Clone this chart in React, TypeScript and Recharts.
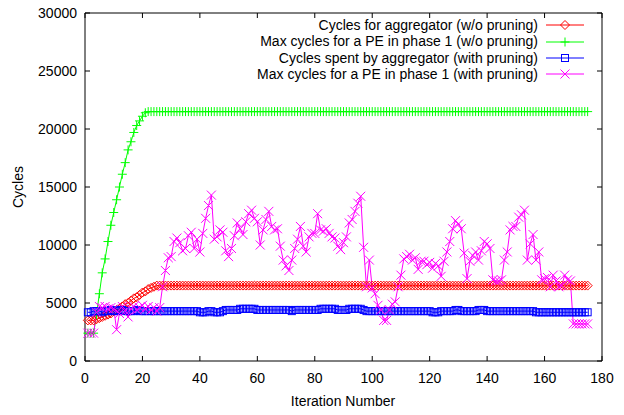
import { LineChart, Line, XAxis, YAxis, Legend, ReferenceLine } from 'recharts';

const iterations = [
  1, 2, 3, 4, 5, 6, 7, 8, 9, 10, 11, 12, 13, 14, 15, 16, 17, 18, 19, 20, 21, 22, 23, 24, 25,
  26, 27, 28, 29, 30, 31, 32, 33, 34, 35, 36, 37, 38, 39, 40, 41, 42, 43, 44, 45, 46, 47, 48, 49, 50,
  51, 52, 53, 54, 55, 56, 57, 58, 59, 60, 61, 62, 63, 64, 65, 66, 67, 68, 69, 70, 71, 72, 73, 74, 75,
  76, 77, 78, 79, 80, 81, 82, 83, 84, 85, 86, 87, 88, 89, 90, 91, 92, 93, 94, 95, 96, 97, 98, 99, 100,
  101, 102, 103, 104, 105, 106, 107, 108, 109, 110, 111, 112, 113, 114, 115, 116, 117, 118, 119, 120, 121, 122, 123, 124, 125,
  126, 127, 128, 129, 130, 131, 132, 133, 134, 135, 136, 137, 138, 139, 140, 141, 142, 143, 144, 145, 146, 147, 148, 149, 150,
  151, 152, 153, 154, 155, 156, 157, 158, 159, 160, 161, 162, 163, 164, 165, 166, 167, 168, 169, 170, 171, 172, 173, 174, 175,
];

// cycles for aggregator (w/o pruning)
const aggregatorNoPrune = [
  3500, 3500, 3500, 3600, 3700, 3800, 3900, 4000, 4100, 4300, 4400, 4500, 4700, 4900, 5000, 5200, 5400, 5500, 5700, 5900, 6000, 6200, 6300, 6400, 6500,
  6500, 6500, 6500, 6500, 6500, 6500, 6500, 6500, 6500, 6500, 6500, 6500, 6500, 6500, 6500, 6500, 6500, 6500, 6500, 6500, 6500, 6500, 6500, 6500, 6500,
  6500, 6500, 6500, 6500, 6500, 6500, 6500, 6500, 6500, 6500, 6500, 6500, 6500, 6500, 6500, 6500, 6500, 6500, 6500, 6500, 6500, 6500, 6500, 6500, 6500,
  6500, 6500, 6500, 6500, 6500, 6500, 6500, 6500, 6500, 6500, 6500, 6500, 6500, 6500, 6500, 6500, 6500, 6500, 6500, 6500, 6500, 6500, 6500, 6500, 6500,
  6500, 6500, 6500, 6500, 6500, 6500, 6500, 6500, 6500, 6500, 6500, 6500, 6500, 6500, 6500, 6500, 6500, 6500, 6500, 6500, 6500, 6500, 6500, 6500, 6500,
  6500, 6500, 6500, 6500, 6500, 6500, 6500, 6500, 6500, 6500, 6500, 6500, 6500, 6500, 6500, 6500, 6500, 6500, 6500, 6500, 6500, 6500, 6500, 6500, 6500,
  6500, 6500, 6500, 6500, 6500, 6500, 6500, 6500, 6500, 6500, 6500, 6500, 6500, 6500, 6500, 6500, 6500, 6500, 6500, 6500, 6500, 6500, 6500, 6500, 6500,
];

// max cycles for a PE in phase 1 (w/o pruning)
const peNoPrune = [
  2400, 2400, 2400, 4000, 5800, 7600, 8800, 10300, 11700, 12800, 13900, 15000, 16100, 17100, 18200, 18900, 19700, 20300, 20700, 21100, 21400, 21500, 21500, 21500, 21500,
  21500, 21500, 21500, 21500, 21500, 21500, 21500, 21500, 21500, 21500, 21500, 21500, 21500, 21500, 21500, 21500, 21500, 21500, 21500, 21500, 21500, 21500, 21500, 21500, 21500,
  21500, 21500, 21500, 21500, 21500, 21500, 21500, 21500, 21500, 21500, 21500, 21500, 21500, 21500, 21500, 21500, 21500, 21500, 21500, 21500, 21500, 21500, 21500, 21500, 21500,
  21500, 21500, 21500, 21500, 21500, 21500, 21500, 21500, 21500, 21500, 21500, 21500, 21500, 21500, 21500, 21500, 21500, 21500, 21500, 21500, 21500, 21500, 21500, 21500, 21500,
  21500, 21500, 21500, 21500, 21500, 21500, 21500, 21500, 21500, 21500, 21500, 21500, 21500, 21500, 21500, 21500, 21500, 21500, 21500, 21500, 21500, 21500, 21500, 21500, 21500,
  21500, 21500, 21500, 21500, 21500, 21500, 21500, 21500, 21500, 21500, 21500, 21500, 21500, 21500, 21500, 21500, 21500, 21500, 21500, 21500, 21500, 21500, 21500, 21500, 21500,
  21500, 21500, 21500, 21500, 21500, 21500, 21500, 21500, 21500, 21500, 21500, 21500, 21500, 21500, 21500, 21500, 21500, 21500, 21500, 21500, 21500, 21500, 21500, 21500, 21500,
];

// cycles spent by aggregator (with pruning)
const aggregatorPrune = [
  4200, 4200, 4300, 4300, 4300, 4200, 4300, 4300, 4400, 4300, 4300, 4400, 4400, 4300, 4300, 4300, 4300, 4400, 4300, 4300, 4300, 4300, 4300, 4300, 4300,
  4300, 4300, 4300, 4300, 4300, 4300, 4300, 4300, 4300, 4300, 4300, 4300, 4300, 4300, 4200, 4200, 4200, 4300, 4300, 4200, 4200, 4200, 4300, 4400, 4400,
  4400, 4400, 4400, 4500, 4500, 4500, 4500, 4500, 4500, 4400, 4400, 4400, 4400, 4400, 4400, 4400, 4400, 4400, 4400, 4400, 4400, 4300, 4400, 4400, 4400,
  4400, 4400, 4400, 4400, 4400, 4400, 4500, 4500, 4500, 4500, 4500, 4500, 4400, 4400, 4400, 4400, 4500, 4500, 4500, 4500, 4500, 4400, 4300, 4300, 4300,
  4300, 4300, 4300, 4300, 4300, 4300, 4300, 4300, 4300, 4300, 4300, 4300, 4300, 4300, 4300, 4300, 4300, 4300, 4300, 4300, 4200, 4200, 4200, 4300, 4300,
  4300, 4300, 4300, 4400, 4400, 4300, 4300, 4300, 4300, 4300, 4300, 4400, 4400, 4400, 4300, 4300, 4300, 4300, 4300, 4300, 4300, 4300, 4300, 4300, 4300,
  4300, 4300, 4300, 4300, 4300, 4300, 4200, 4200, 4200, 4200, 4200, 4200, 4200, 4200, 4200, 4200, 4200, 4200, 4200, 4200, 4200, 4200, 4200, 4200, 4200,
];

// max cycles for a PE in phase 1 (with pruning)
const pePrune = [
  2400, 2400, 2400, 4200, 4700, 4600, 4700, 4500, 4600, 4500, 2700, 4100, 4700, 4300, 3800, 4500, 4700, 4400, 4600, 4800, 4500, 4700, 4400, 4600, 4300,
  4600, 6400, 7800, 8900, 9000, 10300, 10600, 10200, 9500, 9700, 10800, 11100, 9700, 10500, 9400, 11000, 12300, 13400, 14300, 10500, 10700, 11300, 11100, 9500, 9000,
  9700, 10800, 11900, 11400, 10900, 12000, 12700, 13000, 12300, 12000, 10000, 11300, 12200, 12900, 11600, 11300, 11400, 9900, 8700, 8200, 7800, 8700, 9700, 10500, 11600,
  9900, 9400, 10700, 11000, 11000, 12700, 11300, 11200, 11400, 11000, 10700, 10600, 9900, 9600, 10200, 10700, 11900, 12200, 12900, 13600, 14200, 9800, 6400, 8700, 6300,
  5800, 4800, 4400, 3500, 3500, 4400, 4900, 5100, 6400, 7400, 8800, 9000, 9200, 8700, 8900, 7900, 8600, 8600, 8300, 8500, 8000, 8400, 8200, 7300, 8600,
  9400, 10300, 11400, 12100, 11800, 11400, 9300, 7100, 8600, 9100, 9400, 8700, 9500, 10300, 10100, 9700, 7000, 6900, 6900, 7000, 8700, 9400, 11300, 11600, 11600,
  12400, 12600, 13000, 8700, 10100, 10900, 8700, 9400, 7000, 7100, 7200, 6400, 7400, 6900, 6400, 6500, 7400, 7000, 6900, 3200, 3200, 3200, 3200, 3200, 3200,
];

const seriesNames = [
  'Cycles for aggregator (w/o pruning)',
  'Max cycles for a PE in phase 1 (w/o pruning)',
  'Cycles spent by aggregator (with pruning)',
  'Max cycles for a PE in phase 1 (with pruning)',
];
const seriesColors = ['#ff0000', '#00ff00', '#0000ff', '#ff00ff'];
const seriesMarkers = ['diamond', 'plus', 'square', 'cross'];
const seriesKeys = ['aggNoPrune', 'peNoPrune', 'aggPrune', 'pePrune'];

const xTicks = [0, 20, 40, 60, 80, 100, 120, 140, 160, 180];
const yTicks = [0, 5000, 10000, 15000, 20000, 25000, 30000];

const data = iterations.map((it, i) => ({
  it,
  aggNoPrune: aggregatorNoPrune[i],
  peNoPrune: peNoPrune[i],
  aggPrune: aggregatorPrune[i],
  pePrune: pePrune[i],
}));

const FONT = '"Liberation Sans", Arial, Helvetica, sans-serif';
const PLOT_TOP = 13;
const PLOT_RIGHT = 602;

const Marker = ({ kind, cx, cy, color }: any) => {
  if (cx == null || cy == null) return null;
  if (kind === 'diamond') {
    const r = 4.5;
    return <path d={`M${cx},${cy - r}L${cx + r},${cy}L${cx},${cy + r}L${cx - r},${cy}Z`} fill="none" stroke={color} strokeWidth={1} />;
  }
  if (kind === 'plus') {
    const r = 4.5;
    return <path d={`M${cx - r},${cy}H${cx + r}M${cx},${cy - r}V${cy + r}`} fill="none" stroke={color} strokeWidth={1} />;
  }
  if (kind === 'square') {
    const r = 3.5;
    return <rect x={cx - r} y={cy - r} width={2 * r} height={2 * r} fill="none" stroke={color} strokeWidth={1} />;
  }
  const r = 4.5;
  return <path d={`M${cx - r},${cy - r}L${cx + r},${cy + r}M${cx - r},${cy + r}L${cx + r},${cy - r}`} fill="none" stroke={color} strokeWidth={1} />;
};

const XTick = ({ x, y, payload }: any) => (
  <g>
    <line x1={x} y1={y} x2={x} y2={y - 5} stroke="#000" />
    <line x1={x} y1={PLOT_TOP} x2={x} y2={PLOT_TOP + 5} stroke="#000" />
    <text x={x} y={y + 22} textAnchor="middle" fontSize={14} fontFamily={FONT} fill="#000">
      {payload.value}
    </text>
  </g>
);

const YTick = ({ x, y, payload }: any) => (
  <g>
    <line x1={x} y1={y} x2={x + 5} y2={y} stroke="#000" />
    <line x1={PLOT_RIGHT} y1={y} x2={PLOT_RIGHT - 5} y2={y} stroke="#000" />
    <text x={x - 8} y={y + 5} textAnchor="end" fontSize={14} fontFamily={FONT} fill="#000">
      {payload.value}
    </text>
  </g>
);

const LegendContent = () => (
  <div style={{ fontFamily: FONT, fontSize: 14, color: '#000' }}>
    {seriesNames.map((name, i) => (
      <div
        key={name}
        style={{ display: 'flex', justifyContent: 'flex-end', alignItems: 'center', height: 16.4, lineHeight: '16.4px' }}
      >
        <span style={{ whiteSpace: 'nowrap' }}>{name}</span>
        <svg width={40} height={16} style={{ marginLeft: 8, display: 'block' }}>
          <line x1={0} y1={8} x2={38} y2={8} stroke={seriesColors[i]} strokeWidth={1} />
          <Marker kind={seriesMarkers[i]} cx={19} cy={8} color={seriesColors[i]} />
        </svg>
      </div>
    ))}
  </div>
);

export default function App() {
  return (
    <div style={{ position: 'absolute', left: 0, top: 0, width: 624, height: 415, background: '#fff' }}>
      <LineChart width={624} height={415} data={data} margin={{ top: 13, right: 22, left: 10, bottom: 24 }}>
        <XAxis
          dataKey="it"
          type="number"
          domain={[0, 180]}
          ticks={xTicks}
          interval={0}
          height={30}
          tickSize={0}
          tickMargin={0}
          tickLine={false}
          axisLine={{ stroke: '#000' }}
          tick={<XTick />}
          label={() => (
            <text x={343} y={406} textAnchor="middle" fontSize={14} fontFamily={FONT} fill="#000">
              Iteration Number
            </text>
          )}
        />
        <YAxis
          type="number"
          domain={[0, 30000]}
          ticks={yTicks}
          interval={0}
          width={75}
          tickSize={0}
          tickMargin={0}
          tickLine={false}
          axisLine={{ stroke: '#000' }}
          tick={<YTick />}
          label={() => (
            <text x={23} y={187} transform="rotate(-90 23 187)" textAnchor="middle" fontSize={14} fontFamily={FONT} fill="#000">
              Cycles
            </text>
          )}
        />
        <ReferenceLine y={30000} stroke="#000" />
        <ReferenceLine x={180} stroke="#000" />
        <Legend
          layout="vertical"
          align="center"
          verticalAlign="middle"
          wrapperStyle={{ left: 0, top: 17, width: 586, height: 'auto' }}
          content={<LegendContent />}
        />
        {seriesKeys.map((key, i) => (
          <Line
            key={key}
            type="linear"
            dataKey={key}
            name={seriesNames[i]}
            stroke={seriesColors[i]}
            strokeWidth={1}
            isAnimationActive={false}
            activeDot={false}
            dot={(p: any) => <Marker key={`${key}-${p.index}`} kind={seriesMarkers[i]} cx={p.cx} cy={p.cy} color={seriesColors[i]} />}
          />
        ))}
      </LineChart>
    </div>
  );
}
